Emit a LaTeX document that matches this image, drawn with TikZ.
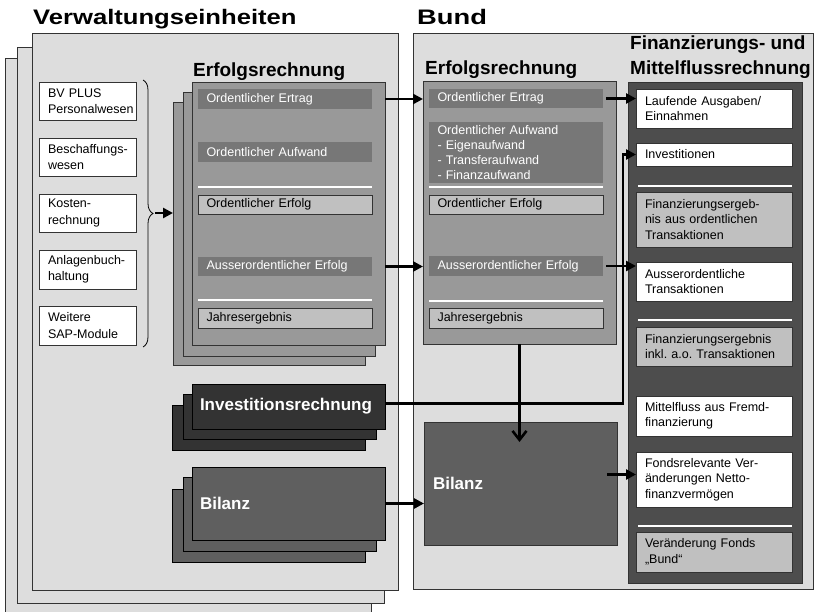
\documentclass[tikz,border=0pt]{standalone}
\usepackage{graphicx}
\usepackage{fontspec}
\setmainfont{Liberation Sans}
\frenchspacing
\usetikzlibrary{arrows.meta,decorations.pathreplacing,calc}
\definecolor{bgpanel}{HTML}{DDDDDD}
\definecolor{erpanel}{HTML}{999999}
\definecolor{darkbar}{HTML}{777777}
\definecolor{lightbox}{HTML}{C0C0C0}
\definecolor{finpanel}{HTML}{4D4D4D}
\definecolor{invfill}{HTML}{333333}
\definecolor{bilfill}{HTML}{5F5F5F}
\definecolor{edge}{HTML}{333333}
\begin{document}
\begin{tikzpicture}[x=1pt,y=-1pt,
  font=\fontsize{12.5}{15.5}\selectfont,
  panel/.style={draw=edge, line width=0.8pt, fill=bgpanel, anchor=north west, inner sep=0pt, outer sep=0pt},
  erp/.style={panel, fill=erpanel},
  bar/.style={fill=darkbar, text=white, anchor=north west, inner xsep=8.5pt, inner ysep=1pt, text width=157pt, align=left, outer sep=0pt},
  lbox/.style={bar, fill=lightbox, draw=edge, line width=0.8pt, text=black},
  fwhite/.style={fill=white, draw=edge, line width=0.6pt, anchor=north west, inner xsep=9pt, inner ysep=1pt, text width=138pt, align=left, outer sep=0pt},
  fgray/.style={fwhite, fill=lightbox},
  modbox/.style={fill=white, draw=edge, line width=0.8pt, anchor=north west, inner xsep=9pt, inner ysep=1pt, text width=79pt, align=left, outer sep=0pt, font=\fontsize{12.5}{16.5}\selectfont},
  bigbox/.style={draw=black, line width=0.8pt, anchor=north west, inner xsep=8pt, inner ysep=1pt, text width=177pt, align=left, outer sep=0pt, text=white, font=\bfseries\fontsize{17}{20}\selectfont},
  sepline/.style={white, line width=2pt},
  conn/.style={line width=2.6pt, -{Triangle[length=10pt,width=10pt]}},
  ttl/.style={font=\bfseries\fontsize{19}{23}\selectfont, anchor=base west, inner sep=0pt},
  bigttl/.style={font=\bfseries\fontsize{21}{25}\selectfont, anchor=base west, inner sep=0pt}
]
\useasboundingbox (0,0) rectangle (816,612);
\clip (0,0) rectangle (816,612);

% ---------- Verwaltungseinheiten ----------
\node[panel, minimum width=366pt, minimum height=560pt] (lp3) at (5,58) {};
\node[panel, minimum width=367pt, minimum height=556pt] (lp2) at (17,47) {};
\node[panel, minimum width=366pt, minimum height=557pt] (lp1) at (32,33) {};
\node[bigttl] (tv) at (33,25) {\scalebox{1.22}[1]{Verwaltungseinheiten}};

\node[modbox, minimum height=38pt] (m1) at (39,82) {\mbox{BV PLUS}\\\mbox{Personalwesen}};
\node[modbox, minimum height=38pt] (m2) at (39,138) {\mbox{Beschaffungs-}\\\mbox{wesen}};
\node[modbox, minimum height=38pt] (m3) at (39,194) {\mbox{Kosten-}\\\mbox{rechnung}};
\node[modbox, minimum height=39pt] (m4) at (39,250) {\mbox{Anlagenbuch-}\\\mbox{haltung}};
\node[modbox, minimum height=39pt] (m5) at (39,306) {\mbox{Weitere}\\\mbox{SAP-Module}};
\draw[line width=0.8pt, decorate, decoration={brace, amplitude=10pt}] (143,80) -- (143,347);
\coordinate (bt) at (155,213);

% left Erfolgsrechnung stack
\node[erp, minimum width=192pt, minimum height=263pt] (ler3) at (173,102) {};
\node[erp, minimum width=192pt, minimum height=264pt] (ler2) at (183,92) {};
\node[erp, minimum width=193pt, minimum height=263pt] (ler1) at (192,82) {};
\node[ttl] (tel) at (193,77) {Erfolgsrechnung};
\node[bar, minimum height=20pt] (oe1) at (198,89) {Ordentlicher Ertrag};
\node[bar, minimum height=20pt] (oa1) at (198,142) {Ordentlicher Aufwand};
\node[lbox, minimum height=19pt] (of1) at (198,195) {Ordentlicher Erfolg};
\node[bar, minimum height=19pt] (ae1) at (198,257) {Ausserordentlicher Erfolg};
\node[lbox, minimum height=20pt] (je1) at (198,308) {Jahresergebnis};
\draw[sepline] ([yshift=8pt]of1.north west) -- ([yshift=8pt]of1.north east);
\draw[sepline] ([yshift=8pt]je1.north west) -- ([yshift=8pt]je1.north east);

% left Investitionsrechnung stack
\node[bigbox, fill=invfill, minimum height=45pt] (lir3) at (172,405) {};
\node[bigbox, fill=invfill, minimum height=45pt] (lir2) at (183,394) {};
\node[bigbox, fill=invfill, minimum height=45pt] (lir1) at (192,384) {Investitionsrechnung};

% left Bilanz stack
\node[bigbox, fill=bilfill, minimum height=73pt] (lb3) at (172,489) {};
\node[bigbox, fill=bilfill, minimum height=74pt] (lb2) at (183,477) {};
\node[bigbox, fill=bilfill, minimum height=73pt] (lb1) at (192,467) {Bilanz};

% ---------- Bund ----------
\node[panel, minimum width=400pt, minimum height=556pt] (bp) at (413,33) {};
\node[bigttl] (tb) at (417,25) {\scalebox{1.3}[1]{Bund}};

% right Erfolgsrechnung
\node[erp, minimum width=193pt, minimum height=263pt] (erR) at (423,81) {};
\node[ttl] (ter) at (425,75) {Erfolgsrechnung};
\node[bar, minimum height=19pt] (oe2) at (429,89) {Ordentlicher Ertrag};
\node[bar, minimum height=61pt, font=\fontsize{12.5}{15.3}\selectfont] (oa2) at (429,122) {Ordentlicher Aufwand\\- Eigenaufwand\\- Transferaufwand\\- Finanzaufwand};
\node[lbox, minimum height=19pt] (of2) at (429,195) {Ordentlicher Erfolg};
\node[bar, minimum height=20pt] (ae2) at (429,256) {Ausserordentlicher Erfolg};
\node[lbox, minimum height=20pt] (je2) at (429,308) {Jahresergebnis};
\draw[sepline] ([yshift=8pt]of2.north west) -- ([yshift=8pt]of2.north east);
\draw[sepline] ([yshift=7pt]je2.north west) -- ([yshift=7pt]je2.north east);

% right Bilanz
\node[bigbox, fill=bilfill, draw=edge, inner xsep=9pt, text width=175pt, minimum height=123pt] (bilR) at (424,422) {Bilanz};

% Finanzierungs- und Mittelflussrechnung
\node[panel, fill=finpanel, draw=black!80, minimum width=174pt, minimum height=501pt] (fp) at (628,82) {};
\node[ttl] (tf1) at (630,50) {Finanzierungs- und};
\node[ttl] (tf2) at (630,75) {Mittelflussrechnung};
\node[fwhite, minimum height=39pt] (lau) at (636,89) {Laufende Ausgaben/\\Einnahmen};
\node[fwhite, minimum height=23pt] (inv) at (636,143) {Investitionen};
\node[fgray, minimum height=55pt] (fo) at (636,192) {Finanzierungsergeb-\\nis aus ordentlichen\\Transaktionen};
\node[fwhite, minimum height=39pt] (ao) at (636,262) {Ausserordentliche\\Transaktionen};
\node[fgray, minimum height=39pt] (fi) at (636,327) {Finanzierungsergebnis\\inkl. a.o. Transaktionen};
\node[fwhite, minimum height=40pt] (mf) at (636,396) {Mittelfluss aus Fremd-\\finanzierung};
\node[fwhite, minimum height=55pt] (fr) at (636,452) {Fondsrelevante Ver-\\änderungen Netto-\\finanzvermögen};
\node[fgray, minimum height=40pt] (vf) at (636,532) {Veränderung Fonds\\„Bund“};
\draw[sepline] ([xshift=2pt,yshift=6pt]fo.north west) -- ([yshift=6pt]fo.north east);
\draw[sepline] ([xshift=2pt,yshift=7pt]fi.north west) -- ([yshift=7pt]fi.north east);
\draw[sepline] ([xshift=2pt,yshift=6pt]vf.north west) -- ([yshift=6pt]vf.north east);

% ---------- connectors ----------
\draw[conn] (bt) -- (ler3.west |- bt);
\draw[conn] (ler1.east |- oe1.center) -- (erR.west |- oe1.center);
\draw[conn] (ler1.east |- ae1.center) -- (erR.west |- ae1.center);
\draw[conn] ([xshift=3pt]oe2.east) -- (lau.west |- oe2.east);
\draw[conn] ([xshift=3pt]ae2.east) -- (ao.west |- ae2.east);
\draw[line width=2.6pt, -{Straight Barb[length=9pt,width=14pt]}] (erR.south) -- ([yshift=-20pt]erR.south |- bilR.north);
\draw[conn] ([yshift=3pt]lir1.east) -| ([xshift=-13pt]inv.west) -- (inv.west);
\draw[conn] (lb1.east) -- (bilR.west |- lb1.east);
\draw[conn] ([xshift=-10pt,yshift=5pt]bilR.east |- fr.west) -- ([yshift=5pt]fr.west);
\end{tikzpicture}
\end{document}
